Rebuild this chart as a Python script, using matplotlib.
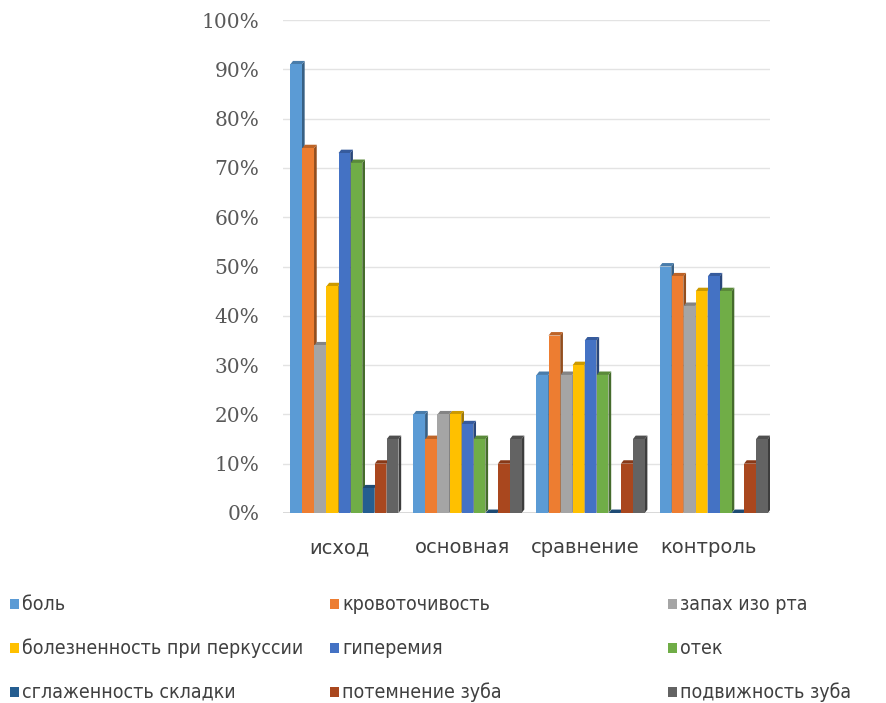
import numpy as np
import matplotlib.pyplot as plt
from matplotlib.patches import Polygon, Rectangle
from matplotlib.colors import to_rgb

groups = ["исход", "основная", "сравнение", "контроль"]

series = ["боль", "кровоточивость", "запах изо рта",
          "болезненность при перкуссии", "гиперемия", "отек",
          "сглаженность складки", "потемнение зуба", "подвижность зуба"]

bol = [91, 20, 28, 50]
krovotochivost = [74, 15, 36, 48]
zapah = [34, 20, 28, 42]
boleznennost = [46, 20, 30, 45]
giperemiya = [73, 18, 35, 48]
otek = [71, 15, 28, 45]
sglazhennost = [5, 0, 0, 0]
potemnenie = [10, 10, 10, 10]
podvizhnost = [15, 15, 15, 15]

values = [bol, krovotochivost, zapah, boleznennost, giperemiya, otek,
          sglazhennost, potemnenie, podvizhnost]

colors = ["#5B9BD5", "#ED7D31", "#A5A5A5", "#FFC000", "#4472C4",
          "#70AD47", "#255E91", "#A9471E", "#636363"]


def shade(c, k):
    r, g, b = to_rgb(c)
    return (r * k, g * k, b * k)


fig = plt.figure(figsize=(8.87, 7.03), dpi=100)
ax = fig.add_axes([283 / 887, 1 - 513 / 703, 487 / 887, 493 / 703])

slot = 0.098
w = slot - 0.003
dx = 0.022
dy = 0.7
x = np.arange(len(groups))

for i, (vals, c) in enumerate(zip(values, colors)):
    xs = x + (i - 4) * slot - slot / 2 + 0.004
    ax.bar(xs, vals, width=w, align="edge", color=c, zorder=4, linewidth=0)
    for x0, v in zip(xs, vals):
        # side and top faces give the columns their depth
        side = Polygon([(x0 + w, 0), (x0 + w + dx, dy), (x0 + w + dx, v + dy), (x0 + w, v)],
                       closed=True, facecolor=shade(c, 0.62), linewidth=0, zorder=3)
        top = Polygon([(x0, v), (x0 + dx, v + dy), (x0 + w + dx, v + dy), (x0 + w, v)],
                      closed=True, facecolor=shade(c, 0.8), linewidth=0, zorder=3)
        ax.add_patch(side)
        ax.add_patch(top)

ax.set_xlim(-0.496, 3.46)
ax.set_ylim(0, 100)
ax.set_yticks(np.arange(0, 101, 10))
ax.set_yticklabels([f"{t}%" for t in range(0, 101, 10)],
                   fontfamily="DejaVu Serif", fontsize=14.5, color="#595959")
ax.set_xticks(x - 0.04)
ax.set_xticklabels(groups, fontsize=14, color="#404040")
ax.tick_params(axis="both", length=0)
ax.tick_params(axis="y", pad=17)
ax.tick_params(axis="x", pad=18)
ax.grid(axis="y", color="#E3E3E3", linewidth=1, zorder=0)
for s in ax.spines.values():
    s.set_visible(False)
ax.axhline(0, color="#D0D0D0", linewidth=1.2, zorder=1)

# legend laid out in three columns, filled row by row
col_x = [10, 330, 668]
row_y = [604, 648, 692]
for i, (name, c) in enumerate(zip(series, colors)):
    px = col_x[i % 3]
    py = row_y[i // 3]
    fig.add_artist(Rectangle((px / 887, 1 - (py + 5) / 703), 9 / 887, 10 / 703,
                             transform=fig.transFigure, facecolor=c, linewidth=0))
    fig.text((px + 12) / 887, 1 - py / 703, name, va="center", ha="left",
             fontsize=14, color="#404040", fontstretch="condensed",
             family=["Liberation Sans Narrow", "DejaVu Sans"])

fig.savefig("out.png", dpi=100)
